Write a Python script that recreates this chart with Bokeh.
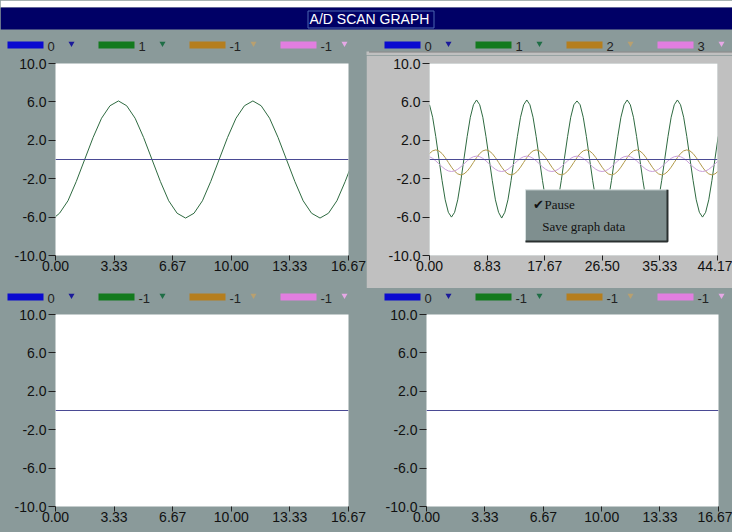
from bokeh.plotting import figure
from bokeh.layouts import column, row
from bokeh.models import FixedTicker, PrintfTickFormatter
from bokeh.core.properties import value
from bokeh.embed import file_html
from bokeh.resources import INLINE

TITLE = "A/D SCAN GRAPH"
MENU_ITEMS = ["\u2714Pause", "Save graph data"]

# ---------------- data ----------------
Y_TICKS = [-10.0, -6.0, -2.0, 2.0, 6.0, 10.0]
X_TICKS_16 = [0.00, 3.33, 6.67, 10.00, 13.33, 16.67]
X_TICKS_44 = [0.00, 8.83, 17.67, 26.50, 35.33, 44.17]

CH_TL = ["0", "1", "-1", "-1"]
CH_TR = ["0", "1", "2", "3"]
CH_BL = ["0", "-1", "-1", "-1"]
CH_BR = ["0", "-1", "-1", "-1"]

# channel 0 (flat at zero) in every panel
ch0_x_16 = [0.00, 16.67]
ch0_y_16 = [0.0, 0.0]
ch0_x_44 = [0.00, 44.17]
ch0_y_44 = [0.0, 0.0]

# top-left panel, channel 1
tl_x = [0.00, 0.23, 0.71, 1.18, 1.66, 2.14, 2.62, 3.10, 3.58, 4.05, 4.53, 5.01,
        5.49, 5.97, 6.44, 6.92, 7.40, 7.88, 8.36, 8.83, 9.31, 9.79, 10.27, 10.75,
        11.23, 11.70, 12.18, 12.66, 13.14, 13.62, 14.09, 14.57, 15.05, 15.53,
        16.01, 16.48, 16.96]
tl_ch1 = [-5.95, -5.6, -4.3, -2.3, 0.0, 2.3, 4.3, 5.6, 6.1, 5.6, 4.3, 2.3,
          0.0, -2.3, -4.3, -5.6, -6.1, -5.6, -4.3, -2.3, 0.0, 2.3, 4.3, 5.6,
          6.1, 5.6, 4.3, 2.3, 0.0, -2.3, -4.3, -5.6, -6.1, -5.6, -4.3, -2.3, 0.0]

# top-right panel, channels 1, 2, 3
tr_x = [0.00, 0.48, 0.96, 1.44, 1.93, 2.41, 2.89, 3.37, 3.85, 4.33, 4.81, 5.29,
        5.78, 6.26, 6.74, 7.22, 7.70, 8.18, 8.66, 9.14, 9.63, 10.11, 10.59, 11.07,
        11.55, 12.03, 12.51, 12.99, 13.48, 13.96, 14.44, 14.92, 15.40, 15.88, 16.36, 16.84,
        17.33, 17.81, 18.29, 18.77, 19.25, 19.73, 20.21, 20.69, 21.18, 21.66, 22.14, 22.62,
        23.10, 23.58, 24.06, 24.54, 25.03, 25.51, 25.99, 26.47, 26.95, 27.43, 27.91, 28.39,
        28.88, 29.36, 29.84, 30.32, 30.80, 31.28, 31.76, 32.24, 32.73, 33.21, 33.69, 34.17,
        34.65, 35.13, 35.61, 36.09, 36.58, 37.06, 37.54, 38.02, 38.50, 38.98, 39.46, 39.94,
        40.43, 40.91, 41.39, 41.87, 42.35, 42.83, 43.31, 43.79, 44.28]
tr_ch1 = [5.7, 4.4, 2.4, 0.1, -2.2, -4.2, -5.5, -6.0, -5.5, -4.2, -2.2, 0.1, 2.4, 4.4, 5.7, 6.2,
          5.7, 4.4, 2.4, 0.1, -2.2, -4.2, -5.5, -6.1, -5.5, -4.2, -2.2, 0.1, 2.4, 4.4, 5.7, 6.2,
          5.7, 4.4, 2.4, 0.1, -2.2, -4.2, -5.5, -6.0, -5.5, -4.2, -2.2, 0.1, 2.4, 4.4, 5.7, 6.1,
          5.7, 4.4, 2.4, 0.1, -2.2, -4.2, -5.5, -6.0, -5.5, -4.2, -2.2, 0.1, 2.4, 4.4, 5.7, 6.2,
          5.7, 4.4, 2.4, 0.1, -2.2, -4.2, -5.5, -6.1, -5.5, -4.2, -2.2, 0.1, 2.4, 4.4, 5.7, 6.2,
          5.7, 4.4, 2.4, 0.1, -2.2, -4.2, -5.5, -6.0, -5.5, -4.2, -2.2, 0.1, 2.4]
tr_ch2 = [0.62, 0.9, 1.0, 0.9, 0.62, 0.2, -0.3, -0.8, -1.22, -1.5, -1.6, -1.5, -1.22, -0.8, -0.3, 0.2,
          0.62, 0.9, 1.0, 0.9, 0.62, 0.2, -0.3, -0.8, -1.22, -1.5, -1.6, -1.5, -1.22, -0.8, -0.3, 0.2,
          0.62, 0.9, 1.0, 0.9, 0.62, 0.2, -0.3, -0.8, -1.22, -1.5, -1.6, -1.5, -1.22, -0.8, -0.3, 0.2,
          0.62, 0.9, 1.0, 0.9, 0.62, 0.2, -0.3, -0.8, -1.22, -1.5, -1.6, -1.5, -1.22, -0.8, -0.3, 0.2,
          0.62, 0.9, 1.0, 0.9, 0.62, 0.2, -0.3, -0.8, -1.22, -1.5, -1.6, -1.5, -1.22, -0.8, -0.3, 0.2,
          0.62, 0.9, 1.0, 0.9, 0.62, 0.2, -0.3, -0.8, -1.22, -1.5, -1.6, -1.5, -1.22]
tr_ch3 = [0.29, 0.12, -0.14, -0.45, -0.76, -1.02, -1.19, -1.25, -1.19, -1.02, -0.76, -0.45, -0.14, 0.12, 0.29, 0.35,
          0.29, 0.12, -0.14, -0.45, -0.76, -1.02, -1.19, -1.25, -1.19, -1.02, -0.76, -0.45, -0.14, 0.12, 0.29, 0.35,
          0.29, 0.12, -0.14, -0.45, -0.76, -1.02, -1.19, -1.25, -1.19, -1.02, -0.76, -0.45, -0.14, 0.12, 0.29, 0.35,
          0.29, 0.12, -0.14, -0.45, -0.76, -1.02, -1.19, -1.25, -1.19, -1.02, -0.76, -0.45, -0.14, 0.12, 0.29, 0.35,
          0.29, 0.12, -0.14, -0.45, -0.76, -1.02, -1.19, -1.25, -1.19, -1.02, -0.76, -0.45, -0.14, 0.12, 0.29, 0.35,
          0.29, 0.12, -0.14, -0.45, -0.76, -1.02, -1.19, -1.25, -1.19, -1.02, -0.76, -0.45, -0.14]

# ---------------- styling ----------------
BG = "#8a9a9a"
PANEL_HI = "#c0c0c0"
NAVY = "#000066"
SWATCH = ["#0a0ad0", "#137a1e", "#b57e1e", "#e27ee0"]
TRIANGLE = ["#1a1a9a", "#1f6e46", "#b8a070", "#e6a8e6"]
LINE = ["#4a4a94", "#2e6a40", "#b09848", "#caa0da"]
FONT = "Liberation Sans"
MENU_FONT = "Liberation Serif"
W = 732
TOP_H = 55


def bare(width, height, bg):
    p = figure(width=width, height=height, x_range=(0, width), y_range=(0, height),
               output_backend="svg", toolbar_location=None, tools="",
               x_axis_location=None, y_axis_location=None, min_border=0,
               background_fill_color=bg, border_fill_color=bg,
               outline_line_color=None)
    p.grid.visible = False
    return p


def draw_legend(p, labels, x0, yc):
    n = len(labels)
    lefts = [x0 + i * 91 for i in range(n)]
    p.quad(left=lefts, right=[l + 36 for l in lefts], bottom=yc - 3.5, top=yc + 3.5,
           fill_color=SWATCH[:n], line_color=None)
    p.text(x=[l + 40 for l in lefts], y=[yc - 1] * n, text=labels,
           text_font=value(FONT), text_font_size="13px", text_color="#222222",
           text_baseline="middle", text_align="left")
    p.scatter(x=[l + 64 for l in lefts], y=[yc + 1.5] * n, marker="inverted_triangle",
              size=6, fill_color=TRIANGLE[:n], line_color=None)


def plot_panel(width, height, xr, xticks, borders, bg):
    l, r, t, b = borders
    p = figure(width=width, height=height, x_range=xr, y_range=(-10, 10),
               output_backend="svg", toolbar_location=None, tools="",
               min_border_left=l, min_border_right=r, min_border_top=t, min_border_bottom=b,
               background_fill_color="white", border_fill_color=bg,
               outline_line_color=None)
    p.grid.visible = False
    p.xaxis.ticker = FixedTicker(ticks=xticks)
    p.xaxis.formatter = PrintfTickFormatter(format="%.2f")
    p.yaxis.ticker = FixedTicker(ticks=Y_TICKS)
    p.yaxis.formatter = PrintfTickFormatter(format="%.1f")
    for ax in (p.xaxis, p.yaxis):
        ax.axis_line_color = None
        ax.major_tick_in = 0
        ax.minor_tick_line_color = None
        ax.major_tick_line_color = "#202020"
        ax.major_label_text_font = FONT
        ax.major_label_text_font_size = "14px"
        ax.major_label_text_color = "#111111"
    p.xaxis.major_tick_out = 5
    p.xaxis.major_label_standoff = 0
    p.yaxis.major_tick_out = 7
    p.yaxis.major_label_standoff = 2
    return p


# top chrome: window title bar + legends of the two upper graphs
top = bare(W, TOP_H, BG)
top.quad(left=[0], right=[W], bottom=[48], top=[TOP_H], fill_color="white", line_color=None)
top.quad(left=[0], right=[W], bottom=[26], top=[48], fill_color=NAVY, line_color=None)
top.quad(left=[307.5], right=[433.5], bottom=[27.5], top=[44.5],
         fill_color=None, line_color="#4a66b0", line_width=1)
top.text(x=[369], y=[36.5], text=[TITLE], text_font=value(FONT),
         text_font_size="14px", text_color="white",
         text_align="center", text_baseline="middle")
# upper edge of the selected (lighter) right-hand graph panel
top.quad(left=[366], right=[W], bottom=[0], top=[4], fill_color=PANEL_HI, line_color=None)
top.line([369, W], [3.5, 3.5], line_color="#404040", line_width=1, line_dash="1 1")
draw_legend(top, CH_TL, 7, 10.5)
draw_legend(top, CH_TR, 384, 10.5)

# top-left graph
p_tl = plot_panel(366, 233, (0, 16.67), X_TICKS_16, (55, 18, 8, 33), BG)
p_tl.line(tl_x, tl_ch1, line_color=LINE[1], line_width=1)
p_tl.line(ch0_x_16, ch0_y_16, line_color=LINE[0], line_width=1)

# top-right graph (selected, lighter background)
p_tr = plot_panel(366, 233, (0, 44.17), X_TICKS_44, (63, 15, 8, 33), PANEL_HI)
p_tr.line(tr_x, tr_ch1, line_color=LINE[1], line_width=1)
p_tr.line(tr_x, tr_ch2, line_color=LINE[2], line_width=1)
p_tr.line(tr_x, tr_ch3, line_color=LINE[3], line_width=1)
p_tr.line(ch0_x_44, ch0_y_44, line_color=LINE[0], line_width=1)

# popup menu over the top-right graph
m_l, m_r, m_b, m_t = 14.72, 36.5, -8.55, -3.16
p_tr.quad(left=[m_l], right=[m_r], bottom=[m_b], top=[m_t],
          fill_color="#7f8f8f", line_color=None)
p_tr.line([m_l, m_l, m_r], [m_b, m_t, m_t], line_color="#d8e0e0", line_width=1)
p_tr.line([m_l, m_r, m_r], [m_b, m_b, m_t], line_color="#2a3030", line_width=2)
p_tr.text(x=[15.95, 17.28], y=[-4.72, -6.96], text=MENU_ITEMS,
          text_font=value(MENU_FONT), text_font_size="13px", text_color="#111111",
          text_align="left", text_baseline="middle")

# middle chrome: legends of the two lower graphs
mid = bare(W, 18, BG)
draw_legend(mid, CH_BL, 7, 9.5)
draw_legend(mid, CH_BR, 384, 9.5)

# bottom graphs
p_bl = plot_panel(366, 226, (0, 16.67), X_TICKS_16, (55, 18, 8, 26), BG)
p_bl.line(ch0_x_16, ch0_y_16, line_color=LINE[0], line_width=1)

p_br = plot_panel(366, 226, (0, 16.67), X_TICKS_16, (60, 14, 8, 26), BG)
p_br.line(ch0_x_16, ch0_y_16, line_color=LINE[0], line_width=1)

layout = column(top, row(p_tl, p_tr), mid, row(p_bl, p_br),
                styles={"background-color": BG})

open("out.html", "w").write(file_html(layout, INLINE))
